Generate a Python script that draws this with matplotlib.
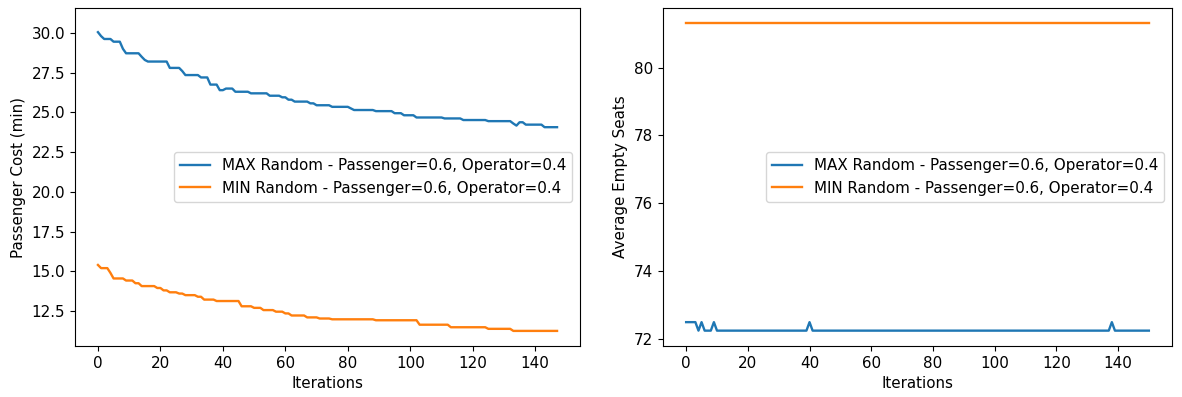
import matplotlib
matplotlib.use('Agg')
import matplotlib.pyplot as plt
import numpy as np

# step runs: (number of iterations, value)
max_cost_runs = [(1, 30.05), (1, 29.8), (3, 29.62), (3, 29.45), (1, 29.0), (5, 28.72),
                 (1, 28.5), (1, 28.3), (7, 28.2), (4, 27.8), (1, 27.6), (5, 27.35),
                 (3, 27.2), (3, 26.75), (2, 26.4), (3, 26.5), (5, 26.3), (6, 26.2),
                 (4, 26.05), (2, 25.95), (2, 25.8), (5, 25.68), (2, 25.57), (5, 25.45),
                 (6, 25.35), (1, 25.25), (7, 25.15), (6, 25.08), (3, 24.95), (4, 24.82),
                 (9, 24.68), (6, 24.62), (8, 24.52), (8, 24.45), (1, 24.3), (1, 24.17),
                 (2, 24.38), (6, 24.23), (5, 24.07)]
min_cost_runs = [(1, 15.4), (3, 15.2), (1, 14.9), (4, 14.55), (3, 14.42), (2, 14.25),
                 (5, 14.07), (2, 13.95), (2, 13.8), (3, 13.68), (2, 13.6), (4, 13.5),
                 (2, 13.4), (4, 13.22), (8, 13.13), (4, 12.8), (3, 12.7), (4, 12.56),
                 (3, 12.46), (2, 12.35), (5, 12.22), (4, 12.1), (4, 12.03), (14, 11.98),
                 (14, 11.92), (10, 11.64), (12, 11.48), (8, 11.38), (15, 11.25)]

max_seats_runs = [(4, 72.5), (1, 72.25), (1, 72.5), (3, 72.25), (1, 72.5), (30, 72.25),
                  (1, 72.5), (97, 72.25), (1, 72.5), (12, 72.25)]
min_seats_runs = [(151, 81.3)]

label_max = 'MAX Random - Passenger=0.6, Operator=0.4'
label_min = 'MIN Random - Passenger=0.6, Operator=0.4'


def expand(runs):
    vals = []
    for n, v in runs:
        vals += [v] * n
    return np.array(vals)


max_cost = expand(max_cost_runs)
min_cost = expand(min_cost_runs)
max_seats = expand(max_seats_runs)
min_seats = expand(min_seats_runs)

plt.rcParams['font.size'] = 10.9
plt.rcParams['lines.linewidth'] = 1.7

fig = plt.figure(figsize=(11.82, 3.97), dpi=100)
ax1 = fig.add_axes([75 / 1182, 51 / 397, 505 / 1182, 338 / 397])
ax2 = fig.add_axes([663 / 1182, 51 / 397, 509 / 1182, 338 / 397])

ax1.plot(range(len(max_cost)), max_cost, label=label_max)
ax1.plot(range(len(min_cost)), min_cost, label=label_min)
ax1.set_ylim(10.3, 31.57)
ax1.set_xlabel('Iterations')
ax1.set_ylabel('Passenger Cost (min)')
ax1.legend(loc='center right')

ax2.plot(range(len(max_seats)), max_seats, label=label_max)
ax2.plot(range(len(min_seats)), min_seats, label=label_min)
ax2.set_xlabel('Iterations')
ax2.set_ylabel('Average Empty Seats')
ax2.legend(loc='center right')

fig.savefig('out.png', dpi=100)
